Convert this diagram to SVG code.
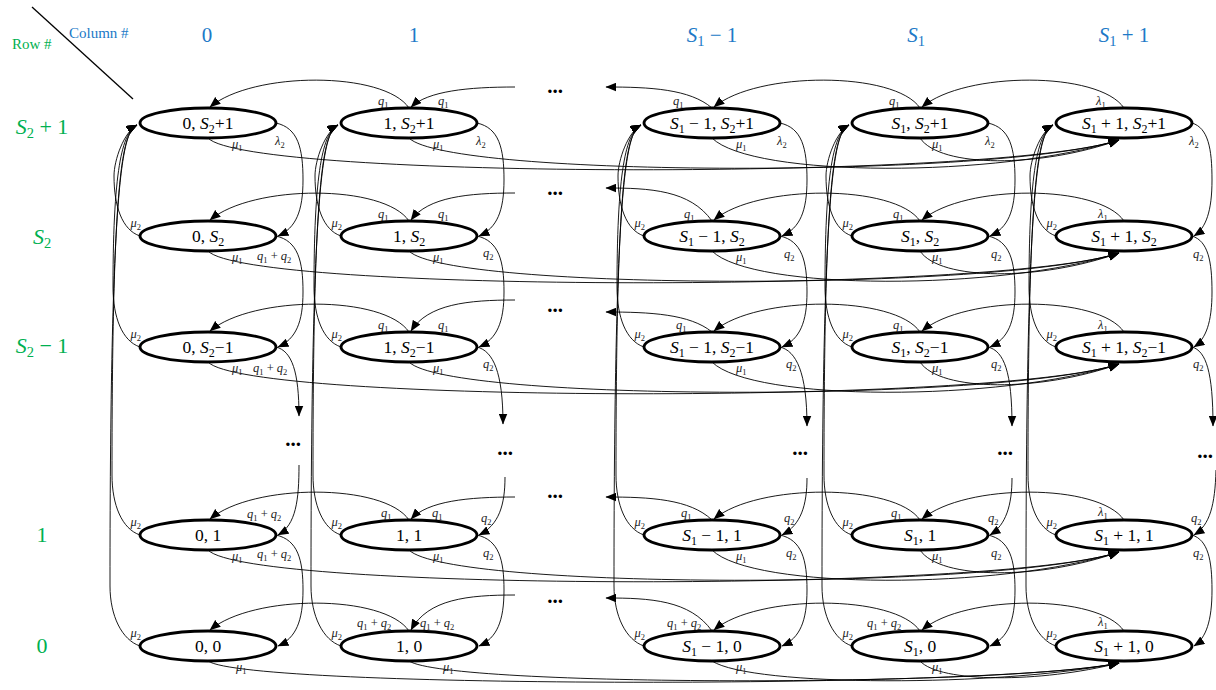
<svg xmlns="http://www.w3.org/2000/svg" width="1216" height="690" viewBox="0 0 1216 690">
<style>
  text { font-family: "Liberation Serif", "DejaVu Serif", serif; }
  .n ellipse { fill: #fff; stroke: #000; stroke-width: 2.9; }
  .n text { font-size: 17.5px; text-anchor: middle; fill: #000; }
  .i { font-style: italic; }
  .ns { font-size: 12px; }
  #connectors path { fill: none; stroke: #000; stroke-width: 0.9; marker-end: url(#ah); }
  .l { font-size: 12.5px; font-style: italic; fill: #222; }
  .l .s { font-size: 8.5px; font-style: normal; }
  .l .u { font-style: normal; }
  .ml { text-anchor: end; }
  .dots { font-size: 21px; font-weight: bold; text-anchor: middle; }
  .hc { font-size: 21px; fill: #2079c7; text-anchor: middle; }
  .hr { font-size: 22px; fill: #00b050; text-anchor: middle; }
  .hs { font-size: 14.5px; }
</style>
<defs>
  <marker id="ah" viewBox="0 0 10 8" refX="9.5" refY="4" markerWidth="11" markerHeight="9" markerUnits="userSpaceOnUse" orient="auto">
    <path d="M0,0 L10,4 L0,8 z" fill="#000"/>
  </marker>
</defs>
<rect width="1216" height="690" fill="#fff"/>

<!-- header corner -->
<g id="header">
  <line x1="32" y1="7" x2="133" y2="99" stroke="#000" stroke-width="1.3"/>
  <text x="69" y="38" font-size="15" fill="#2079c7">Column #</text>
  <text x="12" y="49" font-size="15" fill="#00b050">Row #</text>
  <text class="hc" x="207" y="42">0</text>
  <text class="hc" x="414" y="42">1</text>
  <text class="hc" x="712" y="42"><tspan class="i">S</tspan><tspan class="hs" dy="4">1</tspan><tspan dy="-4"> − 1</tspan></text>
  <text class="hc" x="916" y="42"><tspan class="i">S</tspan><tspan class="hs" dy="4">1</tspan></text>
  <text class="hc" x="1124" y="42"><tspan class="i">S</tspan><tspan class="hs" dy="4">1</tspan><tspan dy="-4"> + 1</tspan></text>
  <text class="hr" x="42" y="134"><tspan class="i">S</tspan><tspan class="hs" dy="4">2</tspan><tspan dy="-4"> + 1</tspan></text>
  <text class="hr" x="42" y="244"><tspan class="i">S</tspan><tspan class="hs" dy="4">2</tspan></text>
  <text class="hr" x="42" y="353"><tspan class="i">S</tspan><tspan class="hs" dy="4">2</tspan><tspan dy="-4"> − 1</tspan></text>
  <text class="hr" x="42" y="542">1</text>
  <text class="hr" x="42" y="653">0</text>
</g>

<!-- transitions -->
<g id="connectors">
  <!-- leftward moves along the top of each row -->
  <path d="M409,108 C384,71 253,71 210,107"/>
  <path d="M920,108 C895,71 757,71 714,107"/>
  <path d="M1124,108 C1099,71 965,71 922,107"/>
  <path d="M515,87 C468,87 428,91 411,107"/>
  <path d="M712,108 C690,89 650,87 606,87"/>

  <path d="M409,221 C384,184 253,184 210,220"/>
  <path d="M920,221 C895,184 757,184 714,220"/>
  <path d="M1124,221 C1099,184 965,184 922,220"/>
  <path d="M515,193 C468,193 428,197 411,220"/>
  <path d="M712,221 C690,190 650,188 606,188"/>

  <path d="M409,332 C384,295 253,295 210,331"/>
  <path d="M920,332 C895,295 757,295 714,331"/>
  <path d="M1124,332 C1099,295 965,295 922,331"/>
  <path d="M515,300 C468,300 428,304 411,331"/>
  <path d="M712,332 C690,314 650,312 606,312"/>

  <path d="M409,520 C384,483 253,483 210,519"/>
  <path d="M920,520 C895,483 757,483 714,519"/>
  <path d="M1124,520 C1099,483 965,483 922,519"/>
  <path d="M515,497 C468,497 428,501 411,519"/>
  <path d="M712,520 C690,499 650,497 606,497"/>

  <path d="M409,631 C384,594 253,594 210,630"/>
  <path d="M920,631 C895,594 757,594 714,630"/>
  <path d="M1124,631 C1099,594 965,594 922,630"/>
  <path d="M515,595 C468,595 428,599 411,630"/>
  <path d="M712,631 C690,600 650,598 606,598"/>

  <!-- downward moves on the right side of each column -->
  <path d="M276,123 C298,128 303,148 303,180 C303,211 296,228 278,236"/>
  <path d="M276,236 C298,241 303,261 303,292 C303,322 296,339 278,347"/>
  <path d="M276,347 C292,351 299,372 299,416"/>
  <path d="M299,465 C299,500 296,525 278,535"/>
  <path d="M276,535 C298,540 303,560 303,590 C303,621 296,638 278,646"/>

  <path d="M477,123 C499,128 504,148 504,180 C504,211 497,228 479,236"/>
  <path d="M477,236 C499,241 504,261 504,292 C504,322 497,339 479,347"/>
  <path d="M477,347 C493,351 503,372 503,424"/>
  <path d="M505,477 C505,505 499,525 479,535"/>
  <path d="M477,535 C499,540 504,560 504,590 C504,621 497,638 479,646"/>

  <path d="M780,123 C802,128 807,148 807,180 C807,211 800,228 782,236"/>
  <path d="M780,236 C802,241 807,261 807,292 C807,322 800,339 782,347"/>
  <path d="M780,347 C796,351 807,372 807,426"/>
  <path d="M807,478 C807,505 801,525 782,535"/>
  <path d="M780,535 C802,540 807,560 807,590 C807,621 800,638 782,646"/>

  <path d="M988,123 C1010,128 1015,148 1015,180 C1015,211 1008,228 990,236"/>
  <path d="M988,236 C1010,241 1015,261 1015,292 C1015,322 1008,339 990,347"/>
  <path d="M988,347 C1004,351 1012,372 1012,426"/>
  <path d="M1012,478 C1012,505 1006,525 990,535"/>
  <path d="M988,535 C1010,540 1015,560 1015,590 C1015,621 1008,638 990,646"/>

  <path d="M1192,123 C1208,128 1212,148 1212,180 C1212,211 1206,228 1194,236"/>
  <path d="M1192,236 C1208,241 1212,261 1212,292 C1212,322 1206,339 1194,347"/>
  <path d="M1192,347 C1206,351 1213,372 1213,426"/>
  <path d="M1216,470 C1215,505 1210,525 1194,535"/>
  <path d="M1192,535 C1208,540 1212,560 1212,590 C1212,621 1206,638 1194,646"/>

  <!-- mu1 jumps to the last column -->
  <path d="M208,138 C248,180 1000,180 1119,140"/>
  <path d="M409,138 C449,178 1000,178 1119,140"/>
  <path d="M712,138 C752,178 1000,178 1119,140"/>
  <path d="M920,138 C940,168 1040,168 1119,140"/>

  <path d="M208,251 C248,293 1000,293 1119,253"/>
  <path d="M409,251 C449,291 1000,291 1119,253"/>
  <path d="M712,251 C752,291 1000,291 1119,253"/>
  <path d="M920,251 C940,281 1040,281 1119,253"/>

  <path d="M208,362 C248,404 1000,404 1119,364"/>
  <path d="M409,362 C449,402 1000,402 1119,364"/>
  <path d="M712,362 C752,402 1000,402 1119,364"/>
  <path d="M920,362 C940,392 1040,392 1119,364"/>

  <path d="M208,550 C248,592 1000,592 1119,552"/>
  <path d="M409,550 C449,590 1000,590 1119,552"/>
  <path d="M712,550 C752,590 1000,590 1119,552"/>
  <path d="M920,550 C940,580 1040,580 1119,552"/>

  <path d="M208,661 C248,689 1000,689 1119,663"/>
  <path d="M409,661 C449,687 1000,687 1119,663"/>
  <path d="M712,661 C752,687 1000,687 1119,663"/>
  <path d="M920,661 C940,683 1040,683 1119,663"/>

  <!-- mu2 returns to the top row of the same column -->
  <path d="M140,236 C122,230 114,206 114,176 C114,160 124,132 137,125"/>
  <path d="M140,347 C122,341 113,317 113,287 C113,160 124,132 137,125"/>
  <path d="M140,535 C122,529 112,505 112,475 C112,160 124,132 137,125"/>
  <path d="M140,646 C122,640 110,616 110,586 C110,160 124,132 137,125"/>

  <path d="M341,236 C323,230 315,206 315,176 C315,160 325,132 338,125"/>
  <path d="M341,347 C323,341 314,317 314,287 C314,160 325,132 338,125"/>
  <path d="M341,535 C323,529 313,505 313,475 C313,160 325,132 338,125"/>
  <path d="M341,646 C323,640 311,616 311,586 C311,160 325,132 338,125"/>

  <path d="M644,236 C626,230 618,206 618,176 C618,160 628,132 641,125"/>
  <path d="M644,347 C626,341 617,317 617,287 C617,160 628,132 641,125"/>
  <path d="M644,535 C626,529 616,505 616,475 C616,160 628,132 641,125"/>
  <path d="M644,646 C626,640 614,616 614,586 C614,160 628,132 641,125"/>

  <path d="M852,236 C834,230 826,206 826,176 C826,160 836,132 849,125"/>
  <path d="M852,347 C834,341 825,317 825,287 C825,160 836,132 849,125"/>
  <path d="M852,535 C834,529 824,505 824,475 C824,160 836,132 849,125"/>
  <path d="M852,646 C834,640 822,616 822,586 C822,160 836,132 849,125"/>

  <path d="M1056,236 C1038,230 1030,206 1030,176 C1030,160 1040,132 1053,125"/>
  <path d="M1056,347 C1038,341 1029,317 1029,287 C1029,160 1040,132 1053,125"/>
  <path d="M1056,535 C1038,529 1028,505 1028,475 C1028,160 1040,132 1053,125"/>
  <path d="M1056,646 C1038,640 1026,616 1026,586 C1026,160 1040,132 1053,125"/>
</g>

<!-- ellipsis markers -->
<g id="ellipses">
  <text class="dots" x="555" y="93">...</text>
  <text class="dots" x="555" y="195">...</text>
  <text class="dots" x="555" y="312">...</text>
  <text class="dots" x="555" y="498">...</text>
  <text class="dots" x="555" y="603">...</text>
  <text class="dots" x="293" y="446">...</text>
  <text class="dots" x="505" y="455">...</text>
  <text class="dots" x="800" y="455">...</text>
  <text class="dots" x="1005" y="455">...</text>
  <text class="dots" x="1205" y="458">...</text>
</g>

<!-- states: row S2+1 -->
<g id="n-0-S2p1" class="n"><ellipse cx="208" cy="123" rx="68" ry="15"/><text x="208" y="129">0, <tspan class="i">S</tspan><tspan class="ns" dy="4">2</tspan><tspan dy="-4">+1</tspan></text></g>
<g id="n-1-S2p1" class="n"><ellipse cx="409" cy="123" rx="68" ry="15"/><text x="409" y="129">1, <tspan class="i">S</tspan><tspan class="ns" dy="4">2</tspan><tspan dy="-4">+1</tspan></text></g>
<g id="n-S1m1-S2p1" class="n"><ellipse cx="712" cy="123" rx="68" ry="15"/><text x="712" y="129"><tspan class="i">S</tspan><tspan class="ns" dy="4">1</tspan><tspan dy="-4"> − 1, </tspan><tspan class="i">S</tspan><tspan class="ns" dy="4">2</tspan><tspan dy="-4">+1</tspan></text></g>
<g id="n-S1-S2p1" class="n"><ellipse cx="920" cy="123" rx="68" ry="15"/><text x="920" y="129"><tspan class="i">S</tspan><tspan class="ns" dy="4">1</tspan><tspan dy="-4">, </tspan><tspan class="i">S</tspan><tspan class="ns" dy="4">2</tspan><tspan dy="-4">+1</tspan></text></g>
<g id="n-S1p1-S2p1" class="n"><ellipse cx="1124" cy="123" rx="68" ry="15"/><text x="1124" y="129"><tspan class="i">S</tspan><tspan class="ns" dy="4">1</tspan><tspan dy="-4"> + 1, </tspan><tspan class="i">S</tspan><tspan class="ns" dy="4">2</tspan><tspan dy="-4">+1</tspan></text></g>

<!-- row S2 -->
<g id="n-0-S2" class="n"><ellipse cx="208" cy="236" rx="68" ry="15"/><text x="208" y="242">0, <tspan class="i">S</tspan><tspan class="ns" dy="4">2</tspan></text></g>
<g id="n-1-S2" class="n"><ellipse cx="409" cy="236" rx="68" ry="15"/><text x="409" y="242">1, <tspan class="i">S</tspan><tspan class="ns" dy="4">2</tspan></text></g>
<g id="n-S1m1-S2" class="n"><ellipse cx="712" cy="236" rx="68" ry="15"/><text x="712" y="242"><tspan class="i">S</tspan><tspan class="ns" dy="4">1</tspan><tspan dy="-4"> − 1, </tspan><tspan class="i">S</tspan><tspan class="ns" dy="4">2</tspan></text></g>
<g id="n-S1-S2" class="n"><ellipse cx="920" cy="236" rx="68" ry="15"/><text x="920" y="242"><tspan class="i">S</tspan><tspan class="ns" dy="4">1</tspan><tspan dy="-4">, </tspan><tspan class="i">S</tspan><tspan class="ns" dy="4">2</tspan></text></g>
<g id="n-S1p1-S2" class="n"><ellipse cx="1124" cy="236" rx="68" ry="15"/><text x="1124" y="242"><tspan class="i">S</tspan><tspan class="ns" dy="4">1</tspan><tspan dy="-4"> + 1, </tspan><tspan class="i">S</tspan><tspan class="ns" dy="4">2</tspan></text></g>

<!-- row S2-1 -->
<g id="n-0-S2m1" class="n"><ellipse cx="208" cy="347" rx="68" ry="15"/><text x="208" y="353">0, <tspan class="i">S</tspan><tspan class="ns" dy="4">2</tspan><tspan dy="-4">−1</tspan></text></g>
<g id="n-1-S2m1" class="n"><ellipse cx="409" cy="347" rx="68" ry="15"/><text x="409" y="353">1, <tspan class="i">S</tspan><tspan class="ns" dy="4">2</tspan><tspan dy="-4">−1</tspan></text></g>
<g id="n-S1m1-S2m1" class="n"><ellipse cx="712" cy="347" rx="68" ry="15"/><text x="712" y="353"><tspan class="i">S</tspan><tspan class="ns" dy="4">1</tspan><tspan dy="-4"> − 1, </tspan><tspan class="i">S</tspan><tspan class="ns" dy="4">2</tspan><tspan dy="-4">−1</tspan></text></g>
<g id="n-S1-S2m1" class="n"><ellipse cx="920" cy="347" rx="68" ry="15"/><text x="920" y="353"><tspan class="i">S</tspan><tspan class="ns" dy="4">1</tspan><tspan dy="-4">, </tspan><tspan class="i">S</tspan><tspan class="ns" dy="4">2</tspan><tspan dy="-4">−1</tspan></text></g>
<g id="n-S1p1-S2m1" class="n"><ellipse cx="1124" cy="347" rx="68" ry="15"/><text x="1124" y="353"><tspan class="i">S</tspan><tspan class="ns" dy="4">1</tspan><tspan dy="-4"> + 1, </tspan><tspan class="i">S</tspan><tspan class="ns" dy="4">2</tspan><tspan dy="-4">−1</tspan></text></g>

<!-- row 1 -->
<g id="n-0-1" class="n"><ellipse cx="208" cy="535" rx="68" ry="15"/><text x="208" y="541">0, 1</text></g>
<g id="n-1-1" class="n"><ellipse cx="409" cy="535" rx="68" ry="15"/><text x="409" y="541">1, 1</text></g>
<g id="n-S1m1-1" class="n"><ellipse cx="712" cy="535" rx="68" ry="15"/><text x="712" y="541"><tspan class="i">S</tspan><tspan class="ns" dy="4">1</tspan><tspan dy="-4"> − 1, 1</tspan></text></g>
<g id="n-S1-1" class="n"><ellipse cx="920" cy="535" rx="68" ry="15"/><text x="920" y="541"><tspan class="i">S</tspan><tspan class="ns" dy="4">1</tspan><tspan dy="-4">, 1</tspan></text></g>
<g id="n-S1p1-1" class="n"><ellipse cx="1124" cy="535" rx="68" ry="15"/><text x="1124" y="541"><tspan class="i">S</tspan><tspan class="ns" dy="4">1</tspan><tspan dy="-4"> + 1, 1</tspan></text></g>

<!-- row 0 -->
<g id="n-0-0" class="n"><ellipse cx="208" cy="646" rx="68" ry="15"/><text x="208" y="652">0, 0</text></g>
<g id="n-1-0" class="n"><ellipse cx="409" cy="646" rx="68" ry="15"/><text x="409" y="652">1, 0</text></g>
<g id="n-S1m1-0" class="n"><ellipse cx="712" cy="646" rx="68" ry="15"/><text x="712" y="652"><tspan class="i">S</tspan><tspan class="ns" dy="4">1</tspan><tspan dy="-4"> − 1, 0</tspan></text></g>
<g id="n-S1-0" class="n"><ellipse cx="920" cy="646" rx="68" ry="15"/><text x="920" y="652"><tspan class="i">S</tspan><tspan class="ns" dy="4">1</tspan><tspan dy="-4">, 0</tspan></text></g>
<g id="n-S1p1-0" class="n"><ellipse cx="1124" cy="646" rx="68" ry="15"/><text x="1124" y="652"><tspan class="i">S</tspan><tspan class="ns" dy="4">1</tspan><tspan dy="-4"> + 1, 0</tspan></text></g>

<!-- rate labels -->
<g id="rates">
  <!-- row S2+1 -->
  <text class="l" x="378" y="105">q<tspan class="s" dy="3">1</tspan></text>
  <text class="l" x="438" y="105">q<tspan class="s" dy="3">1</tspan></text>
  <text class="l" x="673" y="105">q<tspan class="s" dy="3">1</tspan></text>
  <text class="l" x="889" y="105">q<tspan class="s" dy="3">1</tspan></text>
  <text class="l" x="1096" y="105">λ<tspan class="s" dy="3">1</tspan></text>
  <text class="l" x="232" y="148">μ<tspan class="s" dy="3">1</tspan></text>
  <text class="l" x="433" y="148">μ<tspan class="s" dy="3">1</tspan></text>
  <text class="l" x="736" y="148">μ<tspan class="s" dy="3">1</tspan></text>
  <text class="l" x="932" y="148">μ<tspan class="s" dy="3">1</tspan></text>
  <text class="l" x="275" y="145">λ<tspan class="s" dy="3">2</tspan></text>
  <text class="l" x="476" y="145">λ<tspan class="s" dy="3">2</tspan></text>
  <text class="l" x="777" y="145">λ<tspan class="s" dy="3">2</tspan></text>
  <text class="l" x="985" y="145">λ<tspan class="s" dy="3">2</tspan></text>
  <text class="l" x="1189" y="145">λ<tspan class="s" dy="3">2</tspan></text>

  <!-- row S2 -->
  <text class="l" x="378" y="218">q<tspan class="s" dy="3">1</tspan></text>
  <text class="l" x="438" y="218">q<tspan class="s" dy="3">1</tspan></text>
  <text class="l" x="684" y="218">q<tspan class="s" dy="3">1</tspan></text>
  <text class="l" x="893" y="218">q<tspan class="s" dy="3">1</tspan></text>
  <text class="l" x="1098" y="218">λ<tspan class="s" dy="3">1</tspan></text>
  <text class="l ml" x="141" y="227">μ<tspan class="s" dy="3">2</tspan></text>
  <text class="l ml" x="342" y="227">μ<tspan class="s" dy="3">2</tspan></text>
  <text class="l ml" x="645" y="227">μ<tspan class="s" dy="3">2</tspan></text>
  <text class="l ml" x="853" y="227">μ<tspan class="s" dy="3">2</tspan></text>
  <text class="l ml" x="1057" y="227">μ<tspan class="s" dy="3">2</tspan></text>
  <text class="l" x="232" y="261">μ<tspan class="s" dy="3">1</tspan></text>
  <text class="l" x="433" y="261">μ<tspan class="s" dy="3">1</tspan></text>
  <text class="l" x="736" y="261">μ<tspan class="s" dy="3">1</tspan></text>
  <text class="l" x="932" y="261">μ<tspan class="s" dy="3">1</tspan></text>
  <text class="l" x="257" y="260">q<tspan class="s" dy="3">1</tspan><tspan class="u" dy="-3"> + </tspan>q<tspan class="s" dy="3">2</tspan></text>
  <text class="l" x="483" y="257">q<tspan class="s" dy="3">2</tspan></text>
  <text class="l" x="784" y="258">q<tspan class="s" dy="3">2</tspan></text>
  <text class="l" x="991" y="258">q<tspan class="s" dy="3">2</tspan></text>
  <text class="l" x="1193" y="258">q<tspan class="s" dy="3">2</tspan></text>

  <!-- row S2-1 -->
  <text class="l" x="378" y="329">q<tspan class="s" dy="3">1</tspan></text>
  <text class="l" x="438" y="329">q<tspan class="s" dy="3">1</tspan></text>
  <text class="l" x="676" y="329">q<tspan class="s" dy="3">1</tspan></text>
  <text class="l" x="893" y="329">q<tspan class="s" dy="3">1</tspan></text>
  <text class="l" x="1098" y="329">λ<tspan class="s" dy="3">1</tspan></text>
  <text class="l ml" x="141" y="338">μ<tspan class="s" dy="3">2</tspan></text>
  <text class="l ml" x="342" y="338">μ<tspan class="s" dy="3">2</tspan></text>
  <text class="l ml" x="645" y="338">μ<tspan class="s" dy="3">2</tspan></text>
  <text class="l ml" x="853" y="338">μ<tspan class="s" dy="3">2</tspan></text>
  <text class="l ml" x="1057" y="338">μ<tspan class="s" dy="3">2</tspan></text>
  <text class="l" x="232" y="372">μ<tspan class="s" dy="3">1</tspan></text>
  <text class="l" x="433" y="372">μ<tspan class="s" dy="3">1</tspan></text>
  <text class="l" x="736" y="372">μ<tspan class="s" dy="3">1</tspan></text>
  <text class="l" x="932" y="372">μ<tspan class="s" dy="3">1</tspan></text>
  <text class="l" x="253" y="372">q<tspan class="s" dy="3">1</tspan><tspan class="u" dy="-3"> + </tspan>q<tspan class="s" dy="3">2</tspan></text>
  <text class="l" x="483" y="368">q<tspan class="s" dy="3">2</tspan></text>
  <text class="l" x="786" y="368">q<tspan class="s" dy="3">2</tspan></text>
  <text class="l" x="991" y="368">q<tspan class="s" dy="3">2</tspan></text>
  <text class="l" x="1193" y="368">q<tspan class="s" dy="3">2</tspan></text>

  <!-- row 1 -->
  <text class="l" x="381" y="517">q<tspan class="s" dy="3">1</tspan></text>
  <text class="l" x="432" y="517">q<tspan class="s" dy="3">1</tspan></text>
  <text class="l" x="681" y="517">q<tspan class="s" dy="3">1</tspan></text>
  <text class="l" x="891" y="517">q<tspan class="s" dy="3">1</tspan></text>
  <text class="l" x="1098" y="516">λ<tspan class="s" dy="3">1</tspan></text>
  <text class="l" x="247" y="518">q<tspan class="s" dy="3">1</tspan><tspan class="u" dy="-3"> + </tspan>q<tspan class="s" dy="3">2</tspan></text>
  <text class="l" x="481" y="522">q<tspan class="s" dy="3">2</tspan></text>
  <text class="l" x="784" y="522">q<tspan class="s" dy="3">2</tspan></text>
  <text class="l" x="988" y="522">q<tspan class="s" dy="3">2</tspan></text>
  <text class="l" x="1191" y="522">q<tspan class="s" dy="3">2</tspan></text>
  <text class="l ml" x="141" y="526">μ<tspan class="s" dy="3">2</tspan></text>
  <text class="l ml" x="342" y="526">μ<tspan class="s" dy="3">2</tspan></text>
  <text class="l ml" x="645" y="526">μ<tspan class="s" dy="3">2</tspan></text>
  <text class="l ml" x="853" y="526">μ<tspan class="s" dy="3">2</tspan></text>
  <text class="l ml" x="1057" y="526">μ<tspan class="s" dy="3">2</tspan></text>
  <text class="l" x="232" y="560">μ<tspan class="s" dy="3">1</tspan></text>
  <text class="l" x="433" y="560">μ<tspan class="s" dy="3">1</tspan></text>
  <text class="l" x="736" y="560">μ<tspan class="s" dy="3">1</tspan></text>
  <text class="l" x="932" y="560">μ<tspan class="s" dy="3">1</tspan></text>
  <text class="l" x="257" y="558">q<tspan class="s" dy="3">1</tspan><tspan class="u" dy="-3"> + </tspan>q<tspan class="s" dy="3">2</tspan></text>
  <text class="l" x="483" y="557">q<tspan class="s" dy="3">2</tspan></text>
  <text class="l" x="786" y="557">q<tspan class="s" dy="3">2</tspan></text>
  <text class="l" x="991" y="557">q<tspan class="s" dy="3">2</tspan></text>
  <text class="l" x="1193" y="557">q<tspan class="s" dy="3">2</tspan></text>

  <!-- row 0 -->
  <text class="l" x="357" y="627">q<tspan class="s" dy="3">1</tspan><tspan class="u" dy="-3"> + </tspan>q<tspan class="s" dy="3">2</tspan></text>
  <text class="l" x="420" y="627">q<tspan class="s" dy="3">1</tspan><tspan class="u" dy="-3"> + </tspan>q<tspan class="s" dy="3">2</tspan></text>
  <text class="l" x="667" y="627">q<tspan class="s" dy="3">1</tspan><tspan class="u" dy="-3"> + </tspan>q<tspan class="s" dy="3">2</tspan></text>
  <text class="l" x="867" y="627">q<tspan class="s" dy="3">1</tspan><tspan class="u" dy="-3"> + </tspan>q<tspan class="s" dy="3">2</tspan></text>
  <text class="l" x="1098" y="626">λ<tspan class="s" dy="3">1</tspan></text>
  <text class="l ml" x="141" y="637">μ<tspan class="s" dy="3">2</tspan></text>
  <text class="l ml" x="342" y="637">μ<tspan class="s" dy="3">2</tspan></text>
  <text class="l ml" x="645" y="637">μ<tspan class="s" dy="3">2</tspan></text>
  <text class="l ml" x="853" y="637">μ<tspan class="s" dy="3">2</tspan></text>
  <text class="l ml" x="1057" y="637">μ<tspan class="s" dy="3">2</tspan></text>
  <text class="l" x="236" y="671">μ<tspan class="s" dy="3">1</tspan></text>
  <text class="l" x="443" y="671">μ<tspan class="s" dy="3">1</tspan></text>
  <text class="l" x="736" y="671">μ<tspan class="s" dy="3">1</tspan></text>
  <text class="l" x="932" y="671">μ<tspan class="s" dy="3">1</tspan></text>
</g>
</svg>
